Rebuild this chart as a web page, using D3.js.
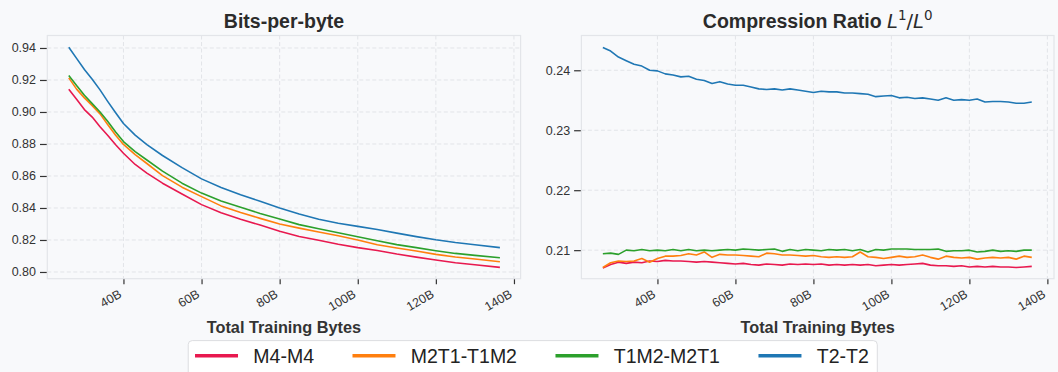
<!DOCTYPE html>
<html>
<head>
<meta charset="utf-8">
<script src="https://cdn.jsdelivr.net/npm/d3@7"></script>
<style>
    body { margin: 0; background: #f8f9fb; }
    svg { display: block; font-family: "Liberation Sans", Arial, sans-serif; }
    .axis text { font-size: 12.5px; fill: #333; }
    .axis line { stroke: #333; stroke-width: 1.2; }
</style>
</head>
<body>
<svg id="chart" width="1058" height="372"></svg>
<script>

const seriesNames = ['M4-M4', 'M2T1-T1M2', 'T1M2-M2T1', 'T2-T2'];
const seriesColors = ['#e8194f', '#ff7f0e', '#2ca02c', '#1f77b4'];

const xTicks = [40, 60, 80, 100, 120, 140];
const bpbTicks = [0.80, 0.82, 0.84, 0.86, 0.88, 0.90, 0.92, 0.94];
const ratioTicks = [0.21, 0.22, 0.23, 0.24];

// bits-per-byte, billions of training bytes
const xLeft = [26, 28, 30, 32, 34, 36, 38, 40, 43, 46, 50, 55, 60, 65, 70, 75, 80, 85, 90, 95, 100, 105, 110, 115, 120, 125, 130, 136.4];
const bpbM4 = [0.9142, 0.9080, 0.9015, 0.8968, 0.8908, 0.8853, 0.8795, 0.8742, 0.8672, 0.8618, 0.8555, 0.8487, 0.8421, 0.8370, 0.8330, 0.8293, 0.8254, 0.8222, 0.8198, 0.8173, 0.8152, 0.8134, 0.8112, 0.8093, 0.8075, 0.8058, 0.8045, 0.8029];
const bpbM2T1 = [0.9213, 0.9143, 0.9088, 0.9040, 0.8988, 0.8920, 0.8855, 0.8797, 0.8733, 0.8678, 0.8602, 0.8530, 0.8471, 0.8413, 0.8372, 0.8335, 0.8300, 0.8274, 0.8250, 0.8226, 0.8200, 0.8170, 0.8150, 0.8131, 0.8110, 0.8094, 0.8081, 0.8064];
const bpbT1M2 = [0.9228, 0.9165, 0.9105, 0.9052, 0.9000, 0.8940, 0.8875, 0.8815, 0.8752, 0.8700, 0.8630, 0.8555, 0.8493, 0.8444, 0.8404, 0.8366, 0.8331, 0.8296, 0.8270, 0.8245, 0.8220, 0.8195, 0.8171, 0.8152, 0.8133, 0.8116, 0.8104, 0.8089];
const bpbT2 = [0.9405, 0.9335, 0.9265, 0.9205, 0.9138, 0.9065, 0.8995, 0.8928, 0.8855, 0.8796, 0.8728, 0.8652, 0.8582, 0.8528, 0.8482, 0.8442, 0.8400, 0.8362, 0.8329, 0.8305, 0.8285, 0.8265, 0.8243, 0.8221, 0.8201, 0.8184, 0.8170, 0.8152];

// compression ratio L1/L0
const xRight = [26, 28, 30, 32, 34, 36, 38, 40, 42, 44, 46, 48, 50, 52, 54, 56, 58, 60, 62, 64, 66, 68, 70, 72, 74, 76, 78, 80, 82, 84,
    86, 88, 90, 92, 94, 96, 98, 100, 102, 104, 106, 108, 110, 112, 114, 116, 118, 120, 122, 124, 126, 128, 130, 132, 134, 136];
const ratioM4 = [0.2070, 0.2076, 0.2080, 0.2078, 0.2080, 0.2079, 0.2082, 0.2081, 0.2083, 0.2082,
    0.2082, 0.2081, 0.2080, 0.2081, 0.2080, 0.2079, 0.2078, 0.2077, 0.2078, 0.2076,
    0.2075, 0.2077, 0.2076, 0.2075, 0.2077, 0.2076, 0.2077, 0.2076, 0.2077, 0.2075,
    0.2076, 0.2075, 0.2076, 0.2075, 0.2076, 0.2074, 0.2075, 0.2076, 0.2075, 0.2076,
    0.2077, 0.2078, 0.2075, 0.2074, 0.2074, 0.2073, 0.2074, 0.2072, 0.2073, 0.2072,
    0.2073, 0.2072, 0.2072, 0.2071, 0.2072, 0.2073];
const ratioM2T1 = [0.2071, 0.2079, 0.2082, 0.2081, 0.2082, 0.2086, 0.2080, 0.2086, 0.2090, 0.2090,
    0.2091, 0.2094, 0.2092, 0.2097, 0.2088, 0.2093, 0.2092, 0.2092, 0.2091, 0.2090,
    0.2089, 0.2095, 0.2094, 0.2092, 0.2092, 0.2091, 0.2090, 0.2091, 0.2089, 0.2088,
    0.2089, 0.2088, 0.2089, 0.2097, 0.2089, 0.2088, 0.2086, 0.2088, 0.2090, 0.2088,
    0.2089, 0.2092, 0.2088, 0.2085, 0.2090, 0.2088, 0.2087, 0.2088, 0.2085, 0.2087,
    0.2088, 0.2087, 0.2088, 0.2085, 0.2090, 0.2088];
const ratioT1M2 = [0.2094, 0.2095, 0.2093, 0.2100, 0.2099, 0.2101, 0.2099, 0.2100, 0.2099, 0.2101,
    0.2099, 0.2101, 0.2099, 0.2100, 0.2099, 0.2100, 0.2101, 0.2100, 0.2102, 0.2101,
    0.2100, 0.2101, 0.2102, 0.2098, 0.2101, 0.2099, 0.2101, 0.2100, 0.2099, 0.2101,
    0.2100, 0.2101, 0.2099, 0.2101, 0.2097, 0.2101, 0.2100, 0.2102, 0.2102, 0.2102,
    0.2101, 0.2101, 0.2101, 0.2102, 0.2098, 0.2099, 0.2099, 0.2100, 0.2097, 0.2098,
    0.2100, 0.2098, 0.2099, 0.2098, 0.2100, 0.2100];
const ratioT2 = [0.2438, 0.2432, 0.2422, 0.2416, 0.2410, 0.2407, 0.2400, 0.2399, 0.2394, 0.2392,
    0.2389, 0.2390, 0.2385, 0.2383, 0.2378, 0.2381, 0.2377, 0.2375, 0.2375, 0.2372,
    0.2369, 0.2368, 0.2369, 0.2367, 0.2369, 0.2367, 0.2365, 0.2363, 0.2365, 0.2364,
    0.2364, 0.2362, 0.2362, 0.2361, 0.2360, 0.2356, 0.2357, 0.2358, 0.2354, 0.2355,
    0.2353, 0.2354, 0.2352, 0.2350, 0.2354, 0.2350, 0.2351, 0.2350, 0.2352, 0.2347,
    0.2348, 0.2348, 0.2347, 0.2345, 0.2345, 0.2347];


class LinePanel {

    constructor(svg, left, right, yDomain, yTicks)
    {
        this.svg = svg;
        this.top = 35.5;
        this.bottom = 278.7;
        this.left = left;
        this.right = right;

        this.x = d3.scaleLinear()
            .domain([20.5, 141.7])
            .range([left, right]);

        this.y = d3.scaleLinear()
            .domain(yDomain)
            .range([this.bottom, this.top]);

        this.yTicks = yTicks;
    }

    drawFrame()
    {
        let g = this.svg.append('g');

        g.append('rect')
            .attr('x', this.left)
            .attr('y', this.top)
            .attr('width', this.right - this.left)
            .attr('height', this.bottom - this.top)
            .attr('fill', '#f8f9fb');

        g.selectAll('.vgrid').data(xTicks).enter().append('line')
            .attr('x1', d => this.x(d)).attr('x2', d => this.x(d))
            .attr('y1', this.top).attr('y2', this.bottom)
            .attr('stroke', '#e2e4e8').attr('stroke-dasharray', '4,2.5');

        g.selectAll('.hgrid').data(this.yTicks).enter().append('line')
            .attr('x1', this.left).attr('x2', this.right)
            .attr('y1', d => this.y(d)).attr('y2', d => this.y(d))
            .attr('stroke', '#e2e4e8').attr('stroke-dasharray', '4,2.5');

        let yAxis = d3.axisLeft(this.y)
            .tickValues(this.yTicks)
            .tickFormat(d3.format('.2f'))
            .tickSize(7)
            .tickPadding(4);

        this.svg.append('g')
            .attr('class', 'axis')
            .attr('transform', 'translate(' + (this.left - 0.3) + ',0)')
            .call(yAxis)
            .call(a => a.select('.domain').remove())
            .selectAll('text').attr('font-family', null);

        let xAxis = d3.axisBottom(this.x)
            .tickValues(xTicks)
            .tickFormat(d => d + 'B')
            .tickSize(5.5);

        let xg = this.svg.append('g')
            .attr('class', 'axis')
            .attr('transform', 'translate(0,' + this.bottom + ')')
            .call(xAxis)
            .call(a => a.select('.domain').remove());

        // rotated tick labels like matplotlib rotation=30, ha=right
        xg.selectAll('text')
            .attr('font-family', null)
            .attr('y', 0)
            .attr('dy', 0)
            .attr('text-anchor', 'end')
            .attr('transform', 'translate(-1.5,18) rotate(-30)');
    }

    drawLines(xs, seriesList)
    {
        let line = d3.line()
            .x((d, i) => this.x(xs[i]))
            .y(d => this.y(d));

        this.svg.append('g').selectAll('path')
            .data(seriesList)
            .enter()
            .append('path')
            .attr('d', d => line(d))
            .attr('fill', 'none')
            .attr('stroke', (d, i) => seriesColors[i])
            .attr('stroke-width', 1.6)
            .attr('stroke-linejoin', 'round');

        // spines on top
        this.svg.append('rect')
            .attr('x', this.left)
            .attr('y', this.top)
            .attr('width', this.right - this.left)
            .attr('height', this.bottom - this.top)
            .attr('fill', 'none')
            .attr('stroke', '#e3e5e9')
            .attr('stroke-width', 1.2);
    }

    drawXLabel(label)
    {
        this.svg.append('text')
            .attr('x', (this.left + this.right) / 2)
            .attr('y', 332.8)
            .attr('text-anchor', 'middle')
            .attr('font-size', '16.3px')
            .attr('font-weight', 'bold')
            .attr('fill', '#333')
            .text(label);
    }

    titleNode()
    {
        return this.svg.append('text')
            .attr('x', (this.left + this.right) / 2)
            .attr('y', 27.7)
            .attr('text-anchor', 'middle')
            .attr('font-size', '19.5px')
            .attr('font-weight', 'bold')
            .attr('fill', '#2b2b2b');
    }
}

const svg = d3.select('#chart');

svg.append('rect')
    .attr('width', 1058)
    .attr('height', 372)
    .attr('fill', '#f8f9fb');

let leftPanel = new LinePanel(svg, 47.3, 520.6, [0.7958, 0.9478], bpbTicks);
leftPanel.drawFrame();
leftPanel.drawLines(xLeft, [bpbM4, bpbM2T1, bpbT1M2, bpbT2]);
leftPanel.drawXLabel('Total Training Bytes');
leftPanel.titleNode().text('Bits-per-byte');

let rightPanel = new LinePanel(svg, 581.4, 1054, [0.20524, 0.2458], ratioTicks);
rightPanel.drawFrame();
rightPanel.drawLines(xRight, [ratioM4, ratioM2T1, ratioT1M2, ratioT2]);
rightPanel.drawXLabel('Total Training Bytes');

let t = rightPanel.titleNode();
t.append('tspan').text('Compression Ratio ');
let math = t.append('tspan').attr('font-weight', 'normal').attr('font-family', '"DejaVu Sans", sans-serif');
math.append('tspan').attr('font-style', 'italic').text('L');
math.append('tspan').attr('font-size', '13.5px').attr('dy', -8).text('1');
math.append('tspan').attr('dy', 8).text('/');
math.append('tspan').attr('font-style', 'italic').text('L');
math.append('tspan').attr('font-size', '13.5px').attr('dy', -8).text('0');

// legend
let legend = svg.append('g');
let box = legend.append('rect')
    .attr('y', 340.6)
    .attr('height', 44)
    .attr('rx', 4)
    .attr('fill', '#ffffff')
    .attr('stroke', '#dcdde0');

let cursor = 6.8;
seriesNames.forEach(function(name, i){
    legend.append('line')
        .attr('x1', cursor).attr('x2', cursor + 43)
        .attr('y1', 355.8).attr('y2', 355.8)
        .attr('stroke', seriesColors[i])
        .attr('stroke-width', 3.6);
    let txt = legend.append('text')
        .attr('x', cursor + 58.3)
        .attr('y', 362.8)
        .attr('font-size', '19.5px')
        .attr('fill', '#222')
        .text(name);
    cursor = cursor + 58.3 + txt.node().getComputedTextLength() + 38.5;
});
let legendWidth = cursor - 38.5 + 8.5;
box.attr('x', 0).attr('width', legendWidth);
legend.attr('transform', 'translate(' + (532.75 - legendWidth / 2) + ',0)');

</script>
</body>
</html>
